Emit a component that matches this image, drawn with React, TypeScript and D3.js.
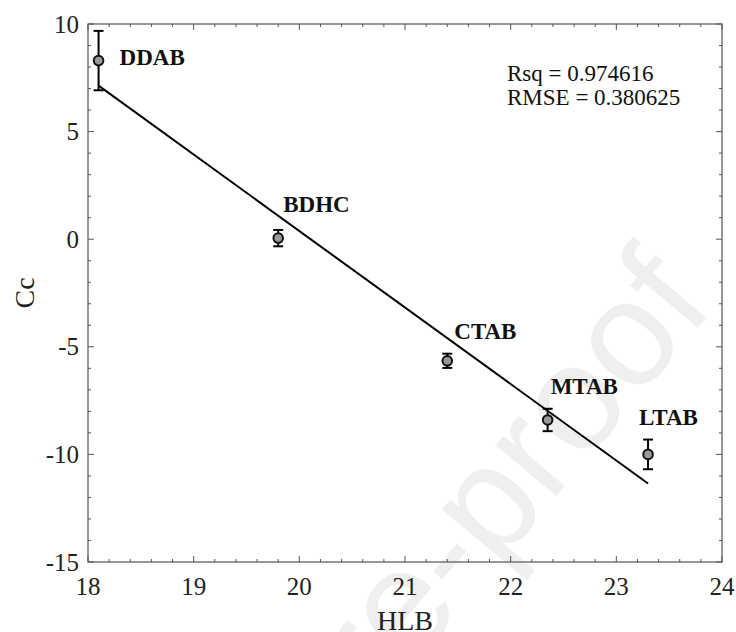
import React from 'react';
import * as d3 from 'd3';

// surfactant data
const names = ['DDAB', 'BDHC', 'CTAB', 'MTAB', 'LTAB'];
const hlb = [18.1, 19.8, 21.4, 22.35, 23.3];
const cc = [8.3, 0.05, -5.65, -8.4, -10.0];
const ccErr = [1.38, 0.38, 0.33, 0.52, 0.69];

// label nudges in px (relative to the marker)
const labelDx = [21, 5, 7, 3, -9];
const labelDy = [4, -26, -22, -26, -29];

const xTicks = [18, 19, 20, 21, 22, 23, 24];
const yTicks = [-15, -10, -5, 0, 5, 10];
const statsText = ['Rsq = 0.974616', 'RMSE = 0.380625'];

const W = 736;
const H = 632;
const m = { left: 88, right: 722, top: 24, bottom: 562 };
const serif = "'Liberation Serif', 'Times New Roman', Tinos, serif";

function App() {
  const x = d3.scaleLinear().domain([18, 24]).range([m.left, m.right]);
  const y = d3.scaleLinear().domain([-15, 10]).range([m.bottom, m.top]);

  // least-squares fit through the points
  const mx = d3.mean(hlb) as number;
  const my = d3.mean(cc) as number;
  const sxy = d3.sum(hlb, (v, i) => (v - mx) * (cc[i] - my));
  const sxx = d3.sum(hlb, v => (v - mx) ** 2);
  const slope = sxy / sxx;
  const fit = (v: number) => my + slope * (v - mx);
  const x0 = d3.min(hlb) as number;
  const x1 = d3.max(hlb) as number;
  const line = d3.line<number>().x(d => x(d)).y(d => y(fit(d)));

  const xMinor = d3.range(18, 24.001, 0.2);
  const yMinor = d3.range(-15, 10.001, 1);
  const axisCol = '#555';
  const txt = { fontFamily: serif };

  return (
    <svg width={W} height={H} style={{ position: 'absolute', left: 0, top: 0, background: '#fff' }}>
      {/* watermark */}
      <text
        transform="translate(716,306) rotate(-50)"
        textAnchor="end"
        style={{ fontFamily: "'Liberation Sans', Arial, sans-serif" }}
        fontSize={150}
        fill="#efefef"
      >
        Journal Pre-proof
      </text>

      {/* box */}
      <rect x={m.left} y={m.top} width={m.right - m.left} height={m.bottom - m.top}
        fill="none" stroke={axisCol} strokeWidth={1.2} />

      {/* x ticks, top and bottom */}
      {xMinor.map((v, i) => {
        const major = Math.abs(v - Math.round(v)) < 1e-6;
        const len = major ? 6 : 3;
        return (
          <g key={'xt' + i} stroke={axisCol} strokeWidth={1}>
            <line x1={x(v)} x2={x(v)} y1={m.bottom} y2={m.bottom - len} />
            <line x1={x(v)} x2={x(v)} y1={m.top} y2={m.top + len} />
          </g>
        );
      })}
      {yMinor.map((v, i) => {
        const major = v % 5 === 0;
        const len = major ? 6 : 3;
        return (
          <g key={'yt' + i} stroke={axisCol} strokeWidth={1}>
            <line x1={m.left} x2={m.left + len} y1={y(v)} y2={y(v)} />
            <line x1={m.right} x2={m.right - len} y1={y(v)} y2={y(v)} />
          </g>
        );
      })}

      {/* tick labels */}
      {xTicks.map(v => (
        <text key={'xl' + v} x={x(v)} y={595} textAnchor="middle"
          style={txt} fontSize={25} fill="#222">{v}</text>
      ))}
      {yTicks.map(v => (
        <text key={'yl' + v} x={79} y={y(v) + 8.5} textAnchor="end"
          style={txt} fontSize={25} fill="#222">{v}</text>
      ))}

      {/* axis titles */}
      <text x={(m.left + m.right) / 2} y={630} textAnchor="middle"
        style={txt} fontSize={28} fill="#222">HLB</text>
      <text transform={`translate(34,${(m.top + m.bottom) / 2}) rotate(-90)`} textAnchor="middle"
        style={txt} fontSize={28} fill="#222">Cc</text>

      {/* fit line */}
      <path d={line([x0, x1]) as string} fill="none" stroke="#000" strokeWidth={2} />

      {/* error bars + markers */}
      {hlb.map((v, i) => {
        const cx = x(v);
        const yt = y(cc[i] + ccErr[i]);
        const yb = y(cc[i] - ccErr[i]);
        return (
          <g key={'pt' + i}>
            <g stroke="#000" strokeWidth={2}>
              <line x1={cx} x2={cx} y1={yt} y2={yb} />
              <line x1={cx - 5} x2={cx + 5} y1={yt} y2={yt} />
              <line x1={cx - 5} x2={cx + 5} y1={yb} y2={yb} />
            </g>
            <circle cx={cx} cy={y(cc[i])} r={4.8} fill="#999" stroke="#111" strokeWidth={2} />
            <text x={cx + labelDx[i]} y={y(cc[i]) + labelDy[i]}
              style={txt} fontWeight="bold" fontSize={23} fill="#111">{names[i]}</text>
          </g>
        );
      })}

      {/* fit stats */}
      {statsText.map((t, i) => (
        <text key={'st' + i} x={507} y={81 + i * 24}
          style={txt} fontSize={23} fill="#111">{t}</text>
      ))}
    </svg>
  );
}

export default App;
